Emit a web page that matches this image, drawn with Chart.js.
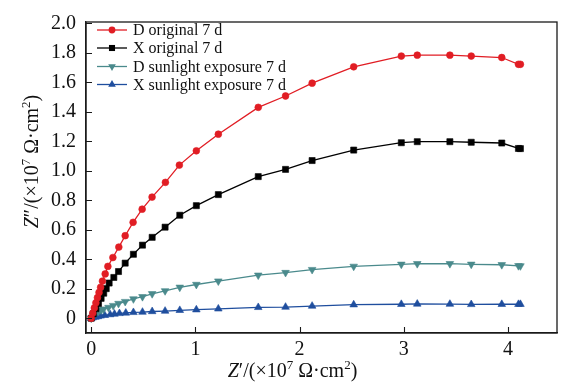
<!DOCTYPE html>
<html>
<head>
<meta charset="utf-8">
<script src="https://cdn.jsdelivr.net/npm/chart.js@4.4.1/dist/chart.umd.min.js"></script>
<style>
html,body{margin:0;padding:0;background:#fff;}
#wrap{width:563px;height:387px;position:relative;}
</style>
</head>
<body>
<div id="wrap"><canvas id="c" width="563" height="387"></canvas></div>
<script>
// ---- data (Z' and Z'' in 1e7 ohm·cm²) ----
const seriesNames = ["D original 7 d", "X original 7 d", "D sunlight exposure 7 d", "X sunlight exposure 7 d"];

const xDorig = [0.0, 0.015, 0.03, 0.045, 0.06, 0.075, 0.09, 0.108, 0.134, 0.160, 0.208, 0.265, 0.326, 0.402, 0.489, 0.584, 0.712, 0.846, 1.009, 1.220, 1.603, 1.865, 2.120, 2.519, 2.976, 3.129, 3.442, 3.647, 3.940, 4.100, 4.119];
const yDorig = [0.0, 0.035, 0.07, 0.105, 0.14, 0.175, 0.21, 0.252, 0.301, 0.352, 0.412, 0.483, 0.560, 0.651, 0.740, 0.822, 0.922, 1.039, 1.136, 1.249, 1.431, 1.508, 1.595, 1.706, 1.779, 1.785, 1.785, 1.779, 1.769, 1.723, 1.723];

const xXorig = [0.0, 0.02, 0.045, 0.07, 0.095, 0.12, 0.144, 0.172, 0.217, 0.262, 0.326, 0.405, 0.492, 0.585, 0.709, 0.850, 1.009, 1.220, 1.603, 1.865, 2.120, 2.519, 2.976, 3.129, 3.442, 3.647, 3.940, 4.100, 4.119];
const yXorig = [0.0, 0.03, 0.065, 0.10, 0.135, 0.17, 0.201, 0.239, 0.277, 0.317, 0.374, 0.434, 0.496, 0.549, 0.618, 0.699, 0.764, 0.839, 0.961, 1.010, 1.070, 1.141, 1.191, 1.198, 1.198, 1.194, 1.189, 1.152, 1.151];

const xDsun = [0.0, 0.02, 0.045, 0.07, 0.095, 0.118, 0.166, 0.211, 0.262, 0.326, 0.405, 0.492, 0.585, 0.709, 0.850, 1.009, 1.220, 1.603, 1.865, 2.120, 2.519, 2.976, 3.129, 3.442, 3.647, 3.940, 4.100, 4.119];
const yDsun = [0.0, 0.02, 0.035, 0.047, 0.056, 0.062, 0.073, 0.086, 0.100, 0.113, 0.131, 0.146, 0.166, 0.186, 0.210, 0.229, 0.252, 0.292, 0.310, 0.330, 0.352, 0.366, 0.370, 0.370, 0.366, 0.363, 0.356, 0.355];

const xXsun = [0.0, 0.015, 0.04, 0.065, 0.09, 0.13, 0.182, 0.223, 0.271, 0.332, 0.405, 0.492, 0.585, 0.709, 0.850, 1.009, 1.220, 1.603, 1.865, 2.120, 2.519, 2.976, 3.129, 3.442, 3.647, 3.940, 4.100, 4.119];
const yXsun = [0.0, 0.004, 0.008, 0.012, 0.016, 0.020, 0.025, 0.029, 0.033, 0.036, 0.040, 0.042, 0.046, 0.049, 0.054, 0.058, 0.064, 0.074, 0.076, 0.083, 0.092, 0.095, 0.097, 0.096, 0.094, 0.095, 0.095, 0.095];

const xTicks = [0, 1, 2, 3, 4];
const yTicks = [0, 0.2, 0.4, 0.6, 0.8, 1.0, 1.2, 1.4, 1.6, 1.8, 2.0];

// ---- styling ----
const colors = ['#e11d24', '#000000', '#4a8a8c', '#1f4e9e'];
const styles = ['circle', 'rect', 'triangle', 'triangle'];
const rotations = [0, 0, 180, 0];
const radii = [3.4, 4.3, 4.4, 4.4];
const SERIF = "'Liberation Serif', 'Times New Roman', serif";

function pts(xs, ys){ return xs.map((x,i)=>({x:x, y:ys[i]})); }
const dataSets = [pts(xDorig,yDorig), pts(xXorig,yXorig), pts(xDsun,yDsun), pts(xXsun,yXsun)];

const datasets = dataSets.map((d,i)=>({
  label: seriesNames[i],
  data: d,
  borderColor: colors[i],
  backgroundColor: colors[i],
  borderWidth: 1.3,
  pointStyle: styles[i],
  pointRotation: rotations[i],
  pointRadius: radii[i],
  pointBorderWidth: 0.6,
  pointBorderColor: colors[i],
  pointBackgroundColor: colors[i],
  tension: 0,
  showLine: true
}));

function drawMarker(ctx, style, x, y, r, rot, color){
  ctx.save();
  ctx.fillStyle = color;
  ctx.beginPath();
  if (style === 'circle') {
    ctx.arc(x, y, r, 0, Math.PI*2);
  } else if (style === 'rect') {
    const s = Math.SQRT1_2 * r;
    ctx.rect(x - s, y - s, 2*s, 2*s);
  } else {
    let a = rot * Math.PI / 180;
    for (let k=0;k<3;k++){
      const px = x + Math.sin(a)*r, py = y - Math.cos(a)*r;
      if (k===0) ctx.moveTo(px,py); else ctx.lineTo(px,py);
      a += 2*Math.PI/3;
    }
    ctx.closePath();
  }
  ctx.fill();
  ctx.restore();
}

const decor = {
  id: 'decor',
  afterDraw(chart){
    const ctx = chart.ctx;
    const ca = chart.chartArea;
    const xs = chart.scales.x, ys = chart.scales.y;
    ctx.save();
    // frame
    ctx.strokeStyle = '#1a1a1a';
    ctx.lineWidth = 1.3;
    ctx.strokeRect(ca.left, ca.top, ca.right - ca.left, ca.bottom - ca.top);
    // inward ticks
    ctx.beginPath();
    xTicks.forEach(v=>{ const p = Math.round(xs.getPixelForValue(v))+0.5; ctx.moveTo(p, ca.bottom); ctx.lineTo(p, ca.bottom-6); });
    yTicks.forEach(v=>{ const p = Math.round(ys.getPixelForValue(v))+0.5; ctx.moveTo(ca.left, p); ctx.lineTo(ca.left+6, p); });
    ctx.lineWidth = 1.1;
    ctx.stroke();

    // legend
    ctx.font = "16px " + SERIF;
    ctx.textBaseline = 'middle';
    ctx.textAlign = 'left';
    const lx0 = 97, lx1 = 127, mx = 112, tx = 133;
    const rowY = [30, 48, 66.5, 84.5];
    seriesNames.forEach((n,i)=>{
      const yy = rowY[i];
      ctx.strokeStyle = colors[i];
      ctx.lineWidth = 1.3;
      ctx.beginPath(); ctx.moveTo(lx0, yy); ctx.lineTo(lx1, yy); ctx.stroke();
      drawMarker(ctx, styles[i], mx, yy, radii[i], rotations[i], colors[i]);
      ctx.fillStyle = '#111';
      ctx.fillText(n, tx, yy+1);
    });

    // axis titles with italic Z and superscripts
    function drawTitle(parts, x, y, center){
      // measure
      let w = 0;
      parts.forEach(p=>{ ctx.font = p.f; w += ctx.measureText(p.t).width; });
      let cx = center ? x - w/2 : x;
      ctx.textBaseline = 'alphabetic';
      ctx.fillStyle = '#111';
      parts.forEach(p=>{ ctx.font = p.f; ctx.fillText(p.t, cx, y + (p.dy||0)); cx += ctx.measureText(p.t).width; });
    }
    const fN = "20px " + SERIF, fI = "italic 20px " + SERIF, fS = "13px " + SERIF;
    drawTitle([
      {t:'Z', f:fI}, {t:'\u2032/(\u00d710', f:fN}, {t:'7', f:fS, dy:-8}, {t:' \u03a9\u00b7cm', f:fN}, {t:'2', f:fS, dy:-8}, {t:')', f:fN}
    ], 292.5, 377, true);
    ctx.save();
    ctx.translate(38, 161.5);
    ctx.rotate(-Math.PI/2);
    drawTitle([
      {t:'Z', f:fI}, {t:'\u2033/(\u00d710', f:fN}, {t:'7', f:fS, dy:-8}, {t:' \u03a9\u00b7cm', f:fN}, {t:'2', f:fS, dy:-8}, {t:')', f:fN}
    ], 0, 0, true);
    ctx.restore();
    ctx.restore();
  }
};

new Chart(document.getElementById('c'), {
  type: 'scatter',
  data: { datasets },
  options: {
    responsive: false,
    animation: false,
    layout: { padding: { left: 0, right: 6, top: 15, bottom: 0 } },
    plugins: { legend: { display: false }, tooltip: { enabled: false } },
    scales: {
      x: {
        type: 'linear', min: -0.05, max: 4.47,
        afterBuildTicks: s => { s.ticks = xTicks.map(v=>({value:v})); },
        afterFit: s => { s.height = 54; },
        grid: { display: false, drawTicks: false },
        border: { display: true, color: '#1a1a1a', width: 1.3 },
        ticks: { color: '#111', font: { family: SERIF, size: 20 }, padding: 5, maxRotation: 0,
                 callback: v => String(v) }
      },
      y: {
        type: 'linear', min: -0.1, max: 2.01,
        afterBuildTicks: s => { s.ticks = yTicks.map(v=>({value:v})); },
        afterFit: s => { s.width = 86; },
        grid: { display: false, drawTicks: false },
        border: { display: true, color: '#1a1a1a', width: 1.3 },
        ticks: { color: '#111', font: { family: SERIF, size: 20 }, padding: 10,
                 callback: v => (Math.abs(v) < 1e-9 ? '0' : Number(v).toFixed(1)) }
      }
    }
  },
  plugins: [decor]
});
</script>
</body>
</html>
